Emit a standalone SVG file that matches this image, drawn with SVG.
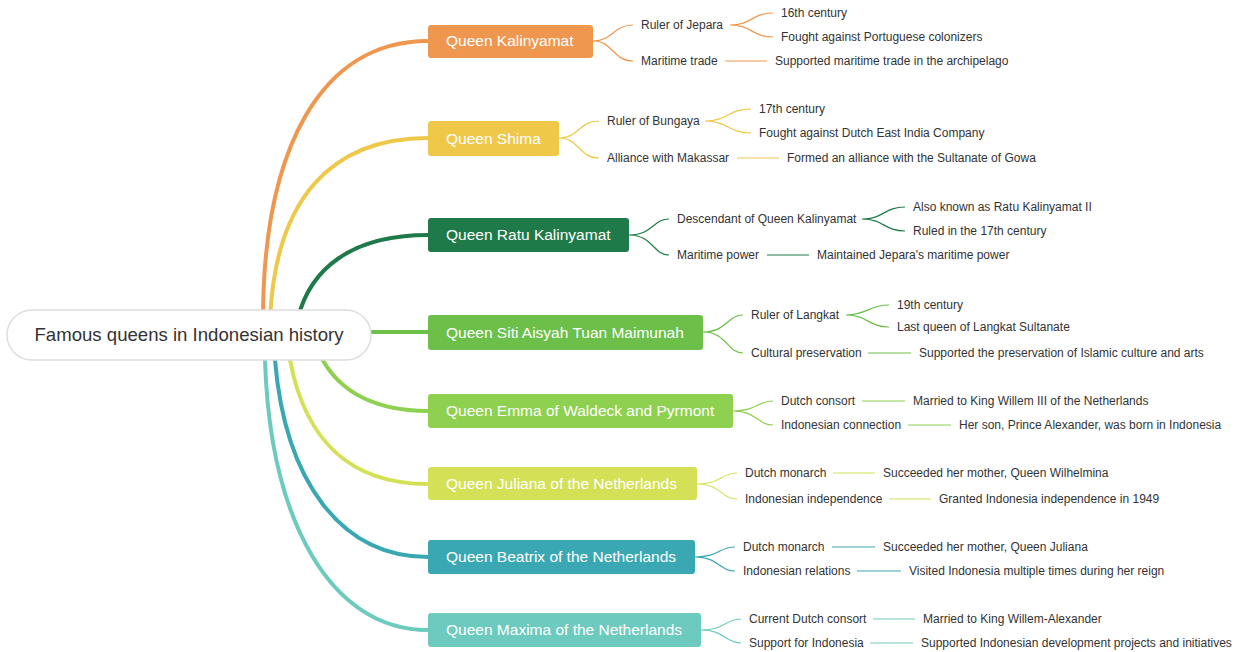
<svg xmlns="http://www.w3.org/2000/svg" width="1240" height="652" viewBox="0 0 1240 652">
<style>
text{font-family:"Liberation Sans",Arial,sans-serif}
.n{font-size:15.5px;fill:#fff}
.c{font-size:12px;fill:#333}
.l{fill:none;stroke-width:1.2}
.b{fill:none;stroke-width:4;stroke-linecap:round}
</style>
<rect width="1240" height="652" fill="#fff"/>
<g id="connectors">
<path class="b" stroke="#F0974F" d="M263 320 C263 150 320 41 428 41"/>
<path class="b" stroke="#EFC84A" d="M270 320 C275 200 330 138 428 138"/>
<path class="b" stroke="#1F7A4A" d="M298 318 C310 270 350 235 428 235"/>
<path class="b" stroke="#6CC04A" d="M371 332 L428 332"/>
<path class="b" stroke="#8ED150" d="M320 355 C340 395 380 411 428 411"/>
<path class="b" stroke="#D4E157" d="M290 360 C305 440 350 484 428 484"/>
<path class="b" stroke="#3AA8B3" d="M275 360 C285 480 340 557 428 557"/>
<path class="b" stroke="#6CCBBE" d="M265 360 C270 520 330 630 428 630"/>
<g stroke="#F0974F" class="l"><path class="l" d="M593 41 C613 41 613 25 633 25M593 41 C613 41 613 61 633 61M730 25 C752 25 752 13 773 13M730 25 C752 25 752 37 773 37M725 61 L767 61"/></g>
<g stroke="#EFC84A" class="l"><path class="l" d="M559 138 C579 138 579 121 599 121M559 138 C579 138 579 158 599 158M705 121 C728 121 728 109 751 109M705 121 C728 121 728 133 751 133M737 158 L779 158"/></g>
<g stroke="#1F7A4A" class="l"><path class="l" d="M629 235 C653 235 653 219 669 219M629 235 C653 235 653 255 669 255M862 219 C884 219 884 207 905 207M862 219 C884 219 884 231 905 231M767 255 L809 255"/></g>
<g stroke="#6CC04A" class="l"><path class="l" d="M703 332 C727 332 727 315 743 315M703 332 C727 332 727 353 743 353M846 315 C868 315 868 305 889 305M846 315 C868 315 868 327 889 327M868 353 L911 353"/></g>
<g stroke="#8ED150" class="l"><path class="l" d="M733 411 C757 411 757 401 773 401M733 411 C757 411 757 425 773 425M862 401 L905 401M908 425 L951 425"/></g>
<g stroke="#D4E157" class="l"><path class="l" d="M697 484 C721 484 721 473 737 473M697 484 C721 484 721 499 737 499M833 473 L875 473M889 499 L931 499"/></g>
<g stroke="#3AA8B3" class="l"><path class="l" d="M695 557 C719 557 719 547 735 547M695 557 C719 557 719 571 735 571M832 547 L875 547M857 571 L901 571"/></g>
<g stroke="#6CCBBE" class="l"><path class="l" d="M701 630 C725 630 725 619 741 619M701 630 C725 630 725 643 741 643M873 619 L915 619M870 643 L913 643"/></g>
</g>
<g id="root"><rect x="7" y="310" width="364" height="50" rx="25" fill="#fff" stroke="#ddd" stroke-width="1.5"/><text x="189" y="341" font-size="18.6" fill="#333" text-anchor="middle">Famous queens in Indonesian history</text></g>
<g id="n1"><rect x="428" y="25" width="165" height="33" rx="3" fill="#F0974F"/><text class="n" x="446" y="46">Queen Kalinyamat</text>
<text class="c" x="641" y="29">Ruler of Jepara</text><text class="c" x="641" y="65">Maritime trade</text><text class="c" x="781" y="17">16th century</text><text class="c" x="781" y="41">Fought against Portuguese colonizers</text><text class="c" x="775" y="65">Supported maritime trade in the archipelago</text></g>
<g id="n2"><rect x="428" y="121" width="131" height="35" rx="3" fill="#EFC84A"/><text class="n" x="446" y="144">Queen Shima</text>
<text class="c" x="607" y="125">Ruler of Bungaya</text><text class="c" x="607" y="162">Alliance with Makassar</text><text class="c" x="759" y="113">17th century</text><text class="c" x="759" y="137">Fought against Dutch East India Company</text><text class="c" x="787" y="162">Formed an alliance with the Sultanate of Gowa</text></g>
<g id="n3"><rect x="428" y="218" width="201" height="34" rx="3" fill="#1F7A4A"/><text class="n" x="446" y="240">Queen Ratu Kalinyamat</text>
<text class="c" x="677" y="223">Descendant of Queen Kalinyamat</text><text class="c" x="677" y="259">Maritime power</text><text class="c" x="913" y="211">Also known as Ratu Kalinyamat II</text><text class="c" x="913" y="235">Ruled in the 17th century</text><text class="c" x="817" y="259">Maintained Jepara's maritime power</text></g>
<g id="n4"><rect x="428" y="315" width="275" height="35" rx="3" fill="#6CC04A"/><text class="n" x="446" y="338">Queen Siti Aisyah Tuan Maimunah</text>
<text class="c" x="751" y="319">Ruler of Langkat</text><text class="c" x="751" y="357">Cultural preservation</text><text class="c" x="897" y="309">19th century</text><text class="c" x="897" y="331">Last queen of Langkat Sultanate</text><text class="c" x="919" y="357">Supported the preservation of Islamic culture and arts</text></g>
<g id="n5"><rect x="428" y="394" width="305" height="34" rx="3" fill="#8ED150"/><text class="n" x="446" y="416">Queen Emma of Waldeck and Pyrmont</text>
<text class="c" x="781" y="405">Dutch consort</text><text class="c" x="781" y="429">Indonesian connection</text><text class="c" x="913" y="405">Married to King Willem III of the Netherlands</text><text class="c" x="959" y="429">Her son, Prince Alexander, was born in Indonesia</text></g>
<g id="n6"><rect x="428" y="467" width="269" height="33" rx="3" fill="#D4E157"/><text class="n" x="446" y="489">Queen Juliana of the Netherlands</text>
<text class="c" x="745" y="477">Dutch monarch</text><text class="c" x="745" y="503">Indonesian independence</text><text class="c" x="883" y="477">Succeeded her mother, Queen Wilhelmina</text><text class="c" x="939" y="503">Granted Indonesia independence in 1949</text></g>
<g id="n7"><rect x="428" y="540" width="267" height="34" rx="3" fill="#3AA8B3"/><text class="n" x="446" y="562">Queen Beatrix of the Netherlands</text>
<text class="c" x="743" y="551">Dutch monarch</text><text class="c" x="743" y="575">Indonesian relations</text><text class="c" x="883" y="551">Succeeded her mother, Queen Juliana</text><text class="c" x="909" y="575">Visited Indonesia multiple times during her reign</text></g>
<g id="n8"><rect x="428" y="613" width="273" height="34" rx="3" fill="#6CCBBE"/><text class="n" x="446" y="635">Queen Maxima of the Netherlands</text>
<text class="c" x="749" y="623">Current Dutch consort</text><text class="c" x="749" y="647">Support for Indonesia</text><text class="c" x="923" y="623">Married to King Willem-Alexander</text><text class="c" x="921" y="647">Supported Indonesian development projects and initiatives</text></g>
</svg>
